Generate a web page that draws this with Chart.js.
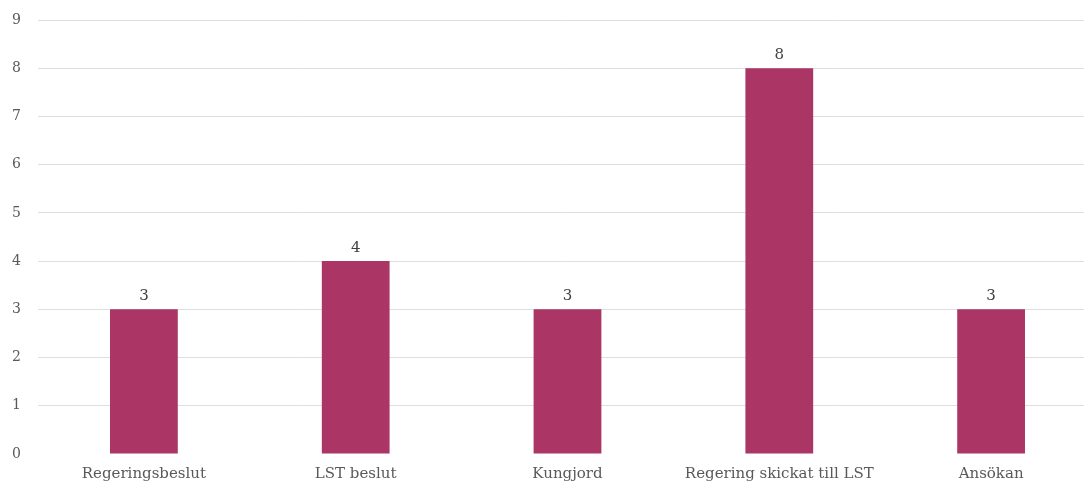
<!DOCTYPE html>
<html>
<head>
<meta charset="utf-8">
<script src="https://cdn.jsdelivr.net/npm/chart.js@4/dist/chart.umd.min.js"></script>
<style>
  html, body { margin: 0; padding: 0; background: #fff; overflow: hidden; }
  #wrap { width: 1100px; height: 483px; }
</style>
</head>
<body>
<div id="wrap"><canvas id="myChart"></canvas></div>
<script>
// data
const categories = ['Regeringsbeslut', 'LST beslut', 'Kungjord', 'Regering skickat till LST', 'Ansökan'];
const counts = [3, 4, 3, 8, 3];
const yTicks = [0, 1, 2, 3, 4, 5, 6, 7, 8, 9];

const serif = '"DejaVu Serif", "Liberation Serif", serif';

// draws the value above every bar
const valueLabels = {
  id: 'valueLabels',
  afterDatasetsDraw(chart) {
    const ctx = chart.ctx;
    const meta = chart.getDatasetMeta(0);
    ctx.save();
    ctx.font = '15px ' + serif;
    ctx.fillStyle = '#404040';
    ctx.textAlign = 'center';
    ctx.textBaseline = 'bottom';
    meta.data.forEach((bar, i) => {
      ctx.fillText(String(counts[i]), bar.x, bar.y - 6);
    });
    ctx.restore();
  }
};

var ctx = document.getElementById('myChart').getContext('2d');
var myChart = new Chart(ctx, {
  type: 'bar',
  data: {
    labels: categories,
    datasets: [{
      data: counts,
      backgroundColor: '#ab3565',
      categoryPercentage: 1,
      barPercentage: 0.32
    }]
  },
  plugins: [valueLabels],
  options: {
    responsive: true,
    maintainAspectRatio: false,
    animation: false,
    layout: { padding: { top: 20, right: 3, left: 12, bottom: 0 } },
    plugins: {
      legend: { display: false },
      tooltip: { enabled: false }
    },
    scales: {
      x: {
        grid: { display: false },
        border: { display: false },
        ticks: {
          color: '#595959',
          font: { family: serif, size: 15 },
          padding: 3,
          maxRotation: 0,
          autoSkip: false
        },
        afterFit: s => { s.height = 29; }
      },
      y: {
        min: 0,
        max: 9,
        afterBuildTicks: s => { s.ticks = yTicks.map(v => ({ value: v })); },
        grid: {
          color: c => (c.tick && c.tick.value === 0) ? 'rgba(0,0,0,0)' : '#dedede',
          lineWidth: 1,
          drawTicks: false
        },
        border: { display: false },
        ticks: {
          color: '#595959',
          font: { family: serif, size: 14 },
          padding: 0,
          crossAlign: 'far'
        },
        afterFit: s => { s.width = 26; }
      }
    }
  }
});
</script>
</body>
</html>
